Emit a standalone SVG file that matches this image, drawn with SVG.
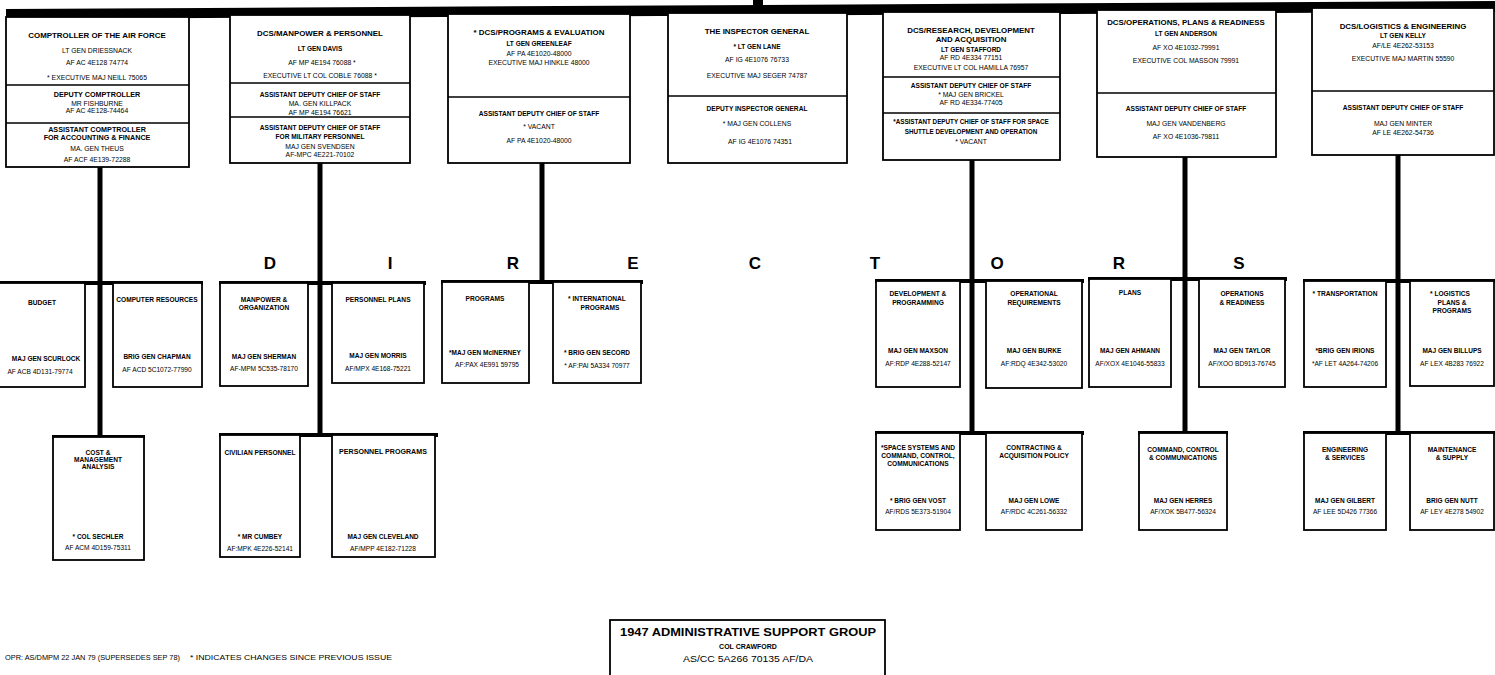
<svg xmlns="http://www.w3.org/2000/svg" width="1495" height="675" viewBox="0 0 1495 675">
<style>
.box{fill:#fff;stroke:#000;stroke-width:1.8}
.dv{stroke:#000;stroke-width:1.5}
.ln{fill:#000}
text{font-family:"Liberation Sans",Arial,sans-serif;text-anchor:middle;dominant-baseline:central;fill:#000}
.h1{font-weight:bold;font-size:7.9px}
.h2{font-weight:bold;font-size:6.6px}
.r{font-size:6.8px}
.nb{font-weight:bold;font-size:6.5px}
.bt{font-weight:bold;font-size:6.6px}
.c{font-size:6.6px}
.big{font-weight:bold;font-size:17px}
.ft{font-size:6.8px;text-anchor:start}
</style>
<rect width="1495" height="675" fill="#fff"/>

<g id="connectors">
  <rect class="ln" x="753" y="0" width="10" height="8"/>
  <polygon class="ln" points="6,9 1495,1 1495,12 6,19"/>
  <rect class="ln" x="97.5" y="166" width="5" height="271"/>
  <rect class="ln" x="317.5" y="162" width="5" height="272"/>
  <rect class="ln" x="539.5" y="162" width="5" height="121"/>
  <rect class="ln" x="969.5" y="159" width="5" height="275"/>
  <rect class="ln" x="1182.5" y="156" width="5" height="278"/>
  <rect class="ln" x="1395.5" y="154" width="5" height="280"/>
  <rect class="ln" x="0" y="281" width="203" height="4"/>
  <rect class="ln" x="219" y="281" width="207" height="4"/>
  <rect class="ln" x="441" y="280" width="202" height="4"/>
  <rect class="ln" x="875" y="279" width="209" height="4"/>
  <rect class="ln" x="1088" y="277" width="199" height="4"/>
  <rect class="ln" x="1303" y="279" width="192" height="4"/>
  <rect class="ln" x="52" y="435" width="93" height="4"/>
  <rect class="ln" x="219" y="433" width="219" height="4"/>
  <rect class="ln" x="875" y="431" width="209" height="4"/>
  <rect class="ln" x="1138" y="431" width="90" height="4"/>
  <rect class="ln" x="1303" y="431" width="192" height="4"/>
</g>

<g id="directors-label">
  <text class="big" x="270" y="263">D</text>
  <text class="big" x="390" y="263">I</text>
  <text class="big" x="513" y="263">R</text>
  <text class="big" x="633" y="263">E</text>
  <text class="big" x="755" y="263">C</text>
  <text class="big" x="875" y="263">T</text>
  <text class="big" x="997" y="263">O</text>
  <text class="big" x="1119" y="263">R</text>
  <text class="big" x="1239" y="263">S</text>
</g>

<g id="comptroller">
  <rect class="box" x="6" y="17" width="183" height="150"/>
  <line class="dv" x1="6" y1="85" x2="189" y2="85"/>
  <line class="dv" x1="6" y1="123" x2="189" y2="123"/>
  <text class="h1" x="97" y="35">COMPTROLLER OF THE AIR FORCE</text>
  <text class="r" x="97" y="50">LT GEN DRIESSNACK</text>
  <text class="r" x="97" y="62">AF AC 4E128 74774</text>
  <text class="r" x="97" y="77">* EXECUTIVE MAJ NEILL 75065</text>
  <text class="h2" x="97" y="94" style="font-size:7.2px">DEPUTY COMPTROLLER</text>
  <text class="r" x="97" y="103">MR FISHBURNE</text>
  <text class="r" x="97" y="110">AF AC 4E128-74464</text>
  <text class="h2" x="97" y="129" style="font-size:7.2px">ASSISTANT COMPTROLLER</text>
  <text class="h2" x="97" y="137" style="font-size:7.2px">FOR ACCOUNTING &amp; FINANCE</text>
  <text class="r" x="97" y="148">MA. GEN THEUS</text>
  <text class="r" x="97" y="159">AF ACF 4E139-72288</text>
</g>

<g id="manpower">
  <rect class="box" x="230" y="15" width="180" height="148"/>
  <line class="dv" x1="230" y1="83" x2="410" y2="83"/>
  <line class="dv" x1="230" y1="117" x2="410" y2="117"/>
  <text class="h1" x="320" y="33">DCS/MANPOWER &amp; PERSONNEL</text>
  <text class="nb" x="320" y="48">LT GEN DAVIS</text>
  <text class="r" x="322" y="62">AF MP 4E194 76088 *</text>
  <text class="r" x="320" y="75">EXECUTIVE LT COL COBLE 76088 *</text>
  <text class="h2" x="320" y="94">ASSISTANT DEPUTY CHIEF OF STAFF</text>
  <text class="r" x="320" y="103">MA. GEN KILLPACK</text>
  <text class="r" x="320" y="112">AF MP 4E194 76621</text>
  <text class="h2" x="320" y="127">ASSISTANT DEPUTY CHIEF OF STAFF</text>
  <text class="h2" x="320" y="136">FOR MILITARY PERSONNEL</text>
  <text class="r" x="320" y="146">MAJ GEN SVENDSEN</text>
  <text class="r" x="320" y="154">AF-MPC 4E221-70102</text>
</g>

<g id="programs-evaluation">
  <rect class="box" x="448" y="14" width="182" height="149"/>
  <line class="dv" x1="448" y1="97" x2="630" y2="97"/>
  <text class="h1" x="539" y="32">* DCS/PROGRAMS &amp; EVALUATION</text>
  <text class="nb" x="539" y="43">LT GEN GREENLEAF</text>
  <text class="r" x="539" y="53">AF PA 4E1020-48000</text>
  <text class="r" x="539" y="62">EXECUTIVE MAJ HINKLE 48000</text>
  <text class="h2" x="539" y="113">ASSISTANT DEPUTY CHIEF OF STAFF</text>
  <text class="r" x="539" y="126">* VACANT</text>
  <text class="r" x="539" y="140">AF PA 4E1020-48000</text>
</g>

<g id="inspector-general">
  <rect class="box" x="668" y="13" width="179" height="150"/>
  <line class="dv" x1="668" y1="96" x2="847" y2="96"/>
  <text class="h1" x="757" y="31">THE INSPECTOR GENERAL</text>
  <text class="nb" x="757" y="46">* LT GEN LANE</text>
  <text class="r" x="757" y="59">AF IG 4E1076 76733</text>
  <text class="r" x="757" y="75">EXECUTIVE MAJ SEGER 74787</text>
  <text class="h2" x="757" y="108">DEPUTY INSPECTOR GENERAL</text>
  <text class="r" x="757" y="123">* MAJ GEN COLLENS</text>
  <text class="r" x="760" y="141">AF IG 4E1076 74351</text>
</g>

<g id="research-development">
  <rect class="box" x="883" y="12" width="177" height="148"/>
  <line class="dv" x1="883" y1="77" x2="1060" y2="77"/>
  <line class="dv" x1="883" y1="113" x2="1060" y2="113"/>
  <text class="h1" x="971" y="30">DCS/RESEARCH, DEVELOPMENT</text>
  <text class="h1" x="971" y="39">AND ACQUISITION</text>
  <text class="nb" x="971" y="49">LT GEN STAFFORD</text>
  <text class="r" x="971" y="57">AF RD 4E334 77151</text>
  <text class="r" x="971" y="67">EXECUTIVE LT COL HAMILLA 76957</text>
  <text class="h2" x="971" y="85">ASSISTANT DEPUTY CHIEF OF STAFF</text>
  <text class="r" x="971" y="94">* MAJ GEN BRICKEL</text>
  <text class="r" x="971" y="102">AF RD 4E334-77405</text>
  <text class="h2" x="971" y="121" style="font-size:6.3px">*ASSISTANT DEPUTY CHIEF OF STAFF FOR SPACE</text>
  <text class="h2" x="971" y="131" style="font-size:6.3px">SHUTTLE DEVELOPMENT AND OPERATION</text>
  <text class="r" x="971" y="141">* VACANT</text>
</g>

<g id="operations-plans">
  <rect class="box" x="1097" y="10" width="179" height="147"/>
  <line class="dv" x1="1097" y1="93" x2="1276" y2="93"/>
  <text class="h1" x="1186" y="22">DCS/OPERATIONS, PLANS &amp; READINESS</text>
  <text class="nb" x="1186" y="33">LT GEN ANDERSON</text>
  <text class="r" x="1186" y="47">AF XO 4E1032-79991</text>
  <text class="r" x="1186" y="60">EXECUTIVE COL MASSON 79991</text>
  <text class="h2" x="1186" y="108">ASSISTANT DEPUTY CHIEF OF STAFF</text>
  <text class="r" x="1186" y="123">MAJ GEN VANDENBERG</text>
  <text class="r" x="1186" y="136">AF XO 4E1036-79811</text>
</g>

<g id="logistics-engineering">
  <rect class="box" x="1312" y="8" width="182" height="147"/>
  <line class="dv" x1="1312" y1="91" x2="1494" y2="91"/>
  <text class="h1" x="1403" y="26">DCS/LOGISTICS &amp; ENGINEERING</text>
  <text class="nb" x="1403" y="35">LT GEN KELLY</text>
  <text class="r" x="1403" y="45">AF/LE 4E262-53153</text>
  <text class="r" x="1403" y="58">EXECUTIVE MAJ MARTIN 55590</text>
  <text class="h2" x="1403" y="107">ASSISTANT DEPUTY CHIEF OF STAFF</text>
  <text class="r" x="1403" y="123">MAJ GEN MINTER</text>
  <text class="r" x="1403" y="132">AF LE 4E262-54736</text>
</g>

<g id="budget">
  <rect class="box" x="-2" y="283" width="87" height="104"/>
  <text class="bt" x="42" y="302">BUDGET</text>
  <text class="nb" x="46" y="358">MAJ GEN SCURLOCK</text>
  <text class="c" x="40" y="371">AF ACB 4D131-79774</text>
</g>
<g id="computer-resources">
  <rect class="box" x="113" y="283" width="89" height="104"/>
  <text class="bt" x="157" y="299">COMPUTER RESOURCES</text>
  <text class="nb" x="157" y="356">BRIG GEN CHAPMAN</text>
  <text class="c" x="157" y="369">AF ACD 5C1072-77990</text>
</g>
<g id="manpower-organization">
  <rect class="box" x="220" y="283" width="88" height="103"/>
  <text class="bt" x="264" y="299">MANPOWER &amp;</text>
  <text class="bt" x="264" y="307">ORGANIZATION</text>
  <text class="nb" x="264" y="356">MAJ GEN SHERMAN</text>
  <text class="c" x="264" y="368">AF-MPM 5C535-78170</text>
</g>
<g id="personnel-plans">
  <rect class="box" x="332" y="283" width="92" height="100"/>
  <text class="bt" x="378" y="299">PERSONNEL PLANS</text>
  <text class="nb" x="378" y="355">MAJ GEN MORRIS</text>
  <text class="c" x="378" y="368">AF/MPX 4E168-75221</text>
</g>
<g id="programs">
  <rect class="box" x="442" y="282" width="87" height="101"/>
  <text class="bt" x="485" y="298">PROGRAMS</text>
  <text class="nb" x="485" y="352">*MAJ GEN McINERNEY</text>
  <text class="c" x="487" y="364">AF:PAX 4E991 59795</text>
</g>
<g id="international-programs">
  <rect class="box" x="553" y="282" width="88" height="101"/>
  <text class="bt" x="597" y="298">* INTERNATIONAL</text>
  <text class="bt" x="600" y="307">PROGRAMS</text>
  <text class="nb" x="597" y="352">* BRIG GEN SECORD</text>
  <text class="c" x="597" y="365">* AF:PAI 5A334 70977</text>
</g>
<g id="development-programming">
  <rect class="box" x="876" y="281" width="84" height="106"/>
  <text class="bt" x="918" y="293">DEVELOPMENT &amp;</text>
  <text class="bt" x="918" y="302">PROGRAMMING</text>
  <text class="nb" x="918" y="350">MAJ GEN MAXSON</text>
  <text class="c" x="918" y="363">AF:RDP 4E288-52147</text>
</g>
<g id="operational-requirements">
  <rect class="box" x="986" y="281" width="96" height="107"/>
  <text class="bt" x="1034" y="293">OPERATIONAL</text>
  <text class="bt" x="1034" y="302">REQUIREMENTS</text>
  <text class="nb" x="1034" y="350">MAJ GEN BURKE</text>
  <text class="c" x="1034" y="363">AF:RDQ 4E342-53020</text>
</g>
<g id="plans">
  <rect class="box" x="1089" y="279" width="82" height="108"/>
  <text class="bt" x="1130" y="292">PLANS</text>
  <text class="nb" x="1130" y="350">MAJ GEN AHMANN</text>
  <text class="c" x="1130" y="363">AF/XOX 4E1046-55833</text>
</g>
<g id="operations-readiness">
  <rect class="box" x="1199" y="279" width="86" height="108"/>
  <text class="bt" x="1242" y="293">OPERATIONS</text>
  <text class="bt" x="1242" y="302">&amp; READINESS</text>
  <text class="nb" x="1242" y="350">MAJ GEN TAYLOR</text>
  <text class="c" x="1242" y="363">AF/XOO BD913-76745</text>
</g>
<g id="transportation">
  <rect class="box" x="1304" y="281" width="82" height="106"/>
  <text class="bt" x="1345" y="293">* TRANSPORTATION</text>
  <text class="nb" x="1345" y="350">*BRIG GEN IRIONS</text>
  <text class="c" x="1345" y="363">*AF LET 4A264-74206</text>
</g>
<g id="logistics-plans-programs">
  <rect class="box" x="1410" y="281" width="84" height="105"/>
  <text class="bt" x="1450" y="293">* LOGISTICS</text>
  <text class="bt" x="1452" y="302">PLANS &amp;</text>
  <text class="bt" x="1452" y="310">PROGRAMS</text>
  <text class="nb" x="1452" y="350">MAJ GEN BILLUPS</text>
  <text class="c" x="1452" y="363">AF LEX 4B283 76922</text>
</g>

<g id="cost-management">
  <rect class="box" x="53" y="437" width="91" height="123"/>
  <text class="bt" x="98" y="452">COST &amp;</text>
  <text class="bt" x="98" y="459">MANAGEMENT</text>
  <text class="bt" x="98" y="466">ANALYSIS</text>
  <text class="nb" x="98" y="536">* COL SECHLER</text>
  <text class="c" x="98" y="547">AF ACM 4D159-75311</text>
</g>
<g id="civilian-personnel">
  <rect class="box" x="220" y="435" width="80" height="122"/>
  <text class="bt" x="260" y="452">CIVILIAN PERSONNEL</text>
  <text class="nb" x="260" y="536">* MR CUMBEY</text>
  <text class="c" x="260" y="548">AF:MPK 4E226-52141</text>
</g>
<g id="personnel-programs">
  <rect class="box" x="332" y="435" width="103" height="122"/>
  <text class="bt" x="383" y="452" style="font-size:7.1px">PERSONNEL PROGRAMS</text>
  <text class="nb" x="383" y="536">MAJ GEN CLEVELAND</text>
  <text class="c" x="383" y="548">AF/MPP 4E182-71228</text>
</g>
<g id="space-systems">
  <rect class="box" x="876" y="433" width="84" height="97"/>
  <text class="bt" x="918" y="447">*SPACE SYSTEMS AND</text>
  <text class="bt" x="918" y="455">COMMAND, CONTROL,</text>
  <text class="bt" x="918" y="463">COMMUNICATIONS</text>
  <text class="nb" x="918" y="500">* BRIG GEN VOST</text>
  <text class="c" x="918" y="511">AF/RDS 5E373-51904</text>
</g>
<g id="contracting-acquisition">
  <rect class="box" x="986" y="433" width="96" height="97"/>
  <text class="bt" x="1034" y="447">CONTRACTING &amp;</text>
  <text class="bt" x="1034" y="455">ACQUISITION POLICY</text>
  <text class="nb" x="1034" y="500">MAJ GEN LOWE</text>
  <text class="c" x="1034" y="511">AF/RDC 4C261-56332</text>
</g>
<g id="command-control-communications">
  <rect class="box" x="1139" y="433" width="88" height="97"/>
  <text class="bt" x="1183" y="449">COMMAND, CONTROL</text>
  <text class="bt" x="1183" y="457">&amp; COMMUNICATIONS</text>
  <text class="nb" x="1183" y="500">MAJ GEN HERRES</text>
  <text class="c" x="1183" y="511">AF/XOK 5B477-56324</text>
</g>
<g id="engineering-services">
  <rect class="box" x="1304" y="433" width="82" height="97"/>
  <text class="bt" x="1345" y="449">ENGINEERING</text>
  <text class="bt" x="1345" y="457">&amp; SERVICES</text>
  <text class="nb" x="1345" y="500">MAJ GEN GILBERT</text>
  <text class="c" x="1345" y="511">AF LEE 5D426 77366</text>
</g>
<g id="maintenance-supply">
  <rect class="box" x="1410" y="433" width="84" height="97"/>
  <text class="bt" x="1452" y="449">MAINTENANCE</text>
  <text class="bt" x="1452" y="457">&amp; SUPPLY</text>
  <text class="nb" x="1452" y="500">BRIG GEN NUTT</text>
  <text class="c" x="1452" y="511">AF LEY 4E278 54902</text>
</g>

<g id="admin-support-group">
  <rect class="box" x="610" y="620" width="275" height="62"/>
  <text x="748" y="632" style="font-weight:bold;font-size:11px" textLength="256" lengthAdjust="spacingAndGlyphs">1947 ADMINISTRATIVE SUPPORT GROUP</text>
  <text x="748" y="646" style="font-weight:bold;font-size:7px">COL CRAWFORD</text>
  <text x="748" y="659" style="font-size:8.5px" textLength="130" lengthAdjust="spacingAndGlyphs">AS/CC 5A266 70135 AF/DA</text>
</g>

<g id="footer">
  <text class="ft" x="5" y="657" textLength="175" lengthAdjust="spacingAndGlyphs">OPR: AS/DMPM 22 JAN 79 (SUPERSEDES SEP 78)</text>
  <text class="ft" x="190" y="657" textLength="202" lengthAdjust="spacingAndGlyphs">* INDICATES CHANGES SINCE PREVIOUS ISSUE</text>
</g>
</svg>
